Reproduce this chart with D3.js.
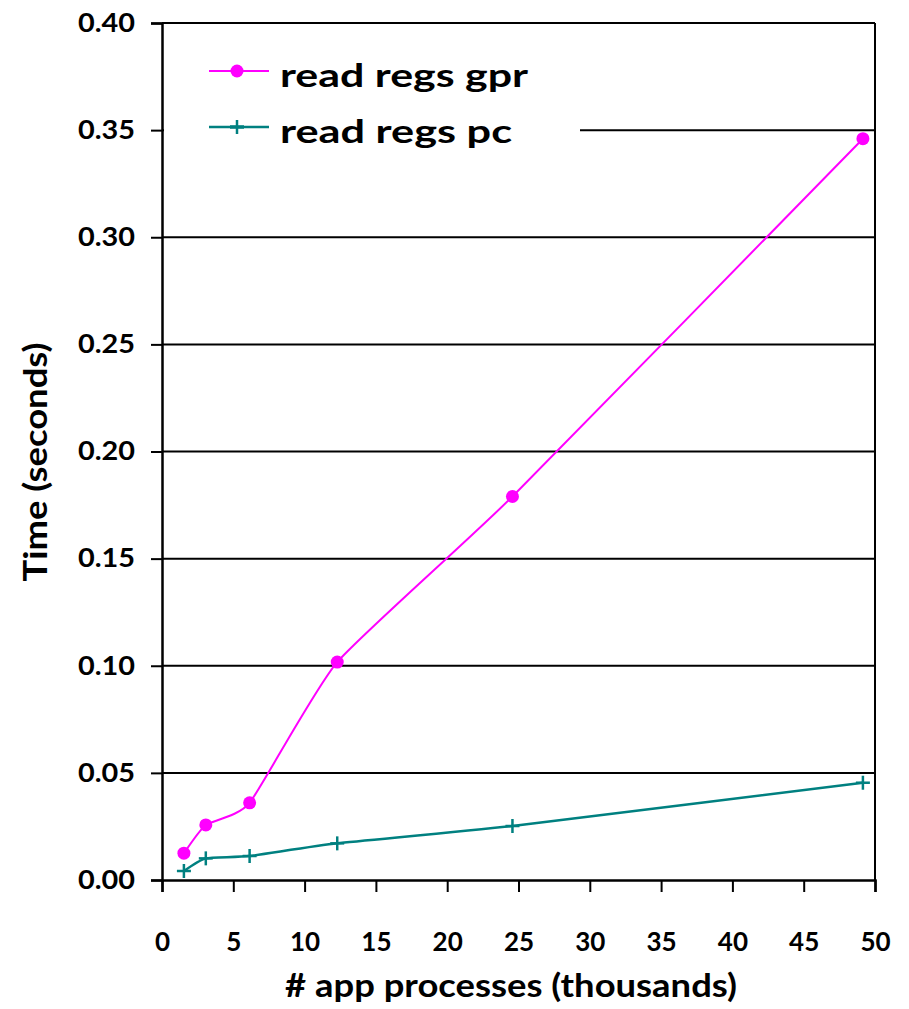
<!DOCTYPE html>
<html><head><meta charset="utf-8">
<script src="https://cdn.jsdelivr.net/npm/d3@7"></script>
<style>body{margin:0;background:#fff}svg{display:block}text{font-family:Lato,"Open Sans",sans-serif;font-weight:bold;fill:#000}</style>
</head><body>
<script>
const processes = [1.536, 3.072, 6.144, 12.288, 24.576, 49.152];
const gprValues = [0.0125, 0.0257, 0.0360, 0.1017, 0.1790, 0.3460];
const pcValues  = [0.0042, 0.0101, 0.0112, 0.0171, 0.0252, 0.0454];
const seriesNames = ["read regs gpr", "read regs pc"];
const xTicks = [0,5,10,15,20,25,30,35,40,45,50];
const yTicks = [0,0.05,0.10,0.15,0.20,0.25,0.30,0.35,0.40];
const xTitle = "# app processes (thousands)";
const yTitle = "Time (seconds)";

const W = 909, H = 1009;
const m = {left:162, right:875, top:23, bottom:880};
const svg = d3.select("body").append("svg").attr("width",W).attr("height",H);
const x = d3.scaleLinear().domain([0,50]).range([m.left,m.right]);
const y = d3.scaleLinear().domain([0,0.40]).range([m.bottom,m.top]);

// gridlines
svg.append("g").selectAll("line").data(yTicks.filter(d=>d>0)).join("line")
  .attr("x1",m.left).attr("x2",m.right).attr("y1",d=>y(d)).attr("y2",d=>y(d))
  .attr("stroke","#000").attr("stroke-width",2);
svg.append("line").attr("x1",m.right).attr("x2",m.right).attr("y1",m.top).attr("y2",m.bottom)
  .attr("stroke","#000").attr("stroke-width",2);

// legend background (hides part of a gridline)
svg.append("rect").attr("x",m.left+2).attr("y",38).attr("width",580-m.left-2).attr("height",122).attr("fill","#fff");

// axes
const yAxis = d3.axisLeft(y).tickValues(yTicks).tickFormat(d3.format(".2f")).tickSize(11).tickPadding(16);
const gy = svg.append("g").attr("transform",`translate(${m.left},0)`).call(yAxis);
gy.select(".domain").attr("stroke","#000").attr("stroke-width",2.5);
gy.selectAll(".tick line").attr("stroke","#000").attr("stroke-width",2);
gy.selectAll(".tick text").attr("font-size",26).attr("fill","#000").attr("font-family","Lato").attr("font-weight","bold")
  .attr("textLength",57).attr("lengthAdjust","spacingAndGlyphs");

const xAxis = d3.axisBottom(x).tickValues(xTicks).tickFormat(d3.format("d")).tickSize(12).tickPadding(42);
const gx = svg.append("g").attr("transform",`translate(0,${m.bottom})`).call(xAxis);
gx.select(".domain").attr("stroke","#000").attr("stroke-width",2.5);
gx.selectAll(".tick line").attr("stroke","#000").attr("stroke-width",2);
gx.selectAll(".tick text").attr("font-size",26).attr("fill","#000").attr("font-family","Lato").attr("font-weight","bold")
  .attr("y",951-m.bottom).attr("dy",0);

// lines
const curve = d3.curveCardinal.tension(0.5);
const line = d3.line().x(d=>x(d[0])).y(d=>y(d[1])).curve(curve);
const gprData = processes.map((p,i)=>[p,gprValues[i]]);
const pcData = processes.map((p,i)=>[p,pcValues[i]]);
svg.append("path").datum(pcData).attr("d",line).attr("fill","none").attr("stroke","#008080").attr("stroke-width",2.5);
svg.append("path").datum(gprData).attr("d",line).attr("fill","none").attr("stroke","#FF00FF").attr("stroke-width",2);

// markers
svg.append("g").selectAll("circle").data(gprData).join("circle")
  .attr("cx",d=>x(d[0])).attr("cy",d=>y(d[1])).attr("r",6.5).attr("fill","#FF00FF");
const plus = svg.append("g").selectAll("g").data(pcData).join("g")
  .attr("transform",d=>`translate(${x(d[0])},${y(d[1])})`);
plus.append("line").attr("x1",-7).attr("x2",7).attr("stroke","#008080").attr("stroke-width",2.5);
plus.append("line").attr("y1",-7).attr("y2",7).attr("stroke","#008080").attr("stroke-width",2.5);

// legend
const legY = [71,127];
const legW = [248,232];
const lg = svg.append("g");
lg.append("line").attr("x1",209).attr("x2",269).attr("y1",legY[0]).attr("y2",legY[0]).attr("stroke","#FF00FF").attr("stroke-width",2);
lg.append("circle").attr("cx",237).attr("cy",legY[0]).attr("r",6.5).attr("fill","#FF00FF");
lg.append("line").attr("x1",209).attr("x2",269).attr("y1",legY[1]).attr("y2",legY[1]).attr("stroke","#008080").attr("stroke-width",2.5);
lg.append("line").attr("x1",230).attr("x2",244).attr("y1",legY[1]).attr("y2",legY[1]).attr("stroke","#008080").attr("stroke-width",3.5);
lg.append("line").attr("x1",237).attr("x2",237).attr("y1",legY[1]-7).attr("y2",legY[1]+7).attr("stroke","#008080").attr("stroke-width",2.5);
lg.selectAll("text").data(seriesNames).join("text")
  .attr("x",280).attr("y",(d,i)=>legY[i]+16).attr("font-size",33)
  .attr("textLength",(d,i)=>legW[i]).attr("lengthAdjust","spacingAndGlyphs").text(d=>d);

// titles
svg.append("text").attr("x",511).attr("y",997).attr("text-anchor","middle").attr("font-size",32)
  .attr("textLength",452).attr("lengthAdjust","spacingAndGlyphs").text(xTitle);
svg.append("text").attr("transform",`translate(47,462) rotate(-90)`).attr("text-anchor","middle").attr("font-size",32)
  .attr("textLength",239).attr("lengthAdjust","spacingAndGlyphs").text(yTitle);
</script>
</body></html>
